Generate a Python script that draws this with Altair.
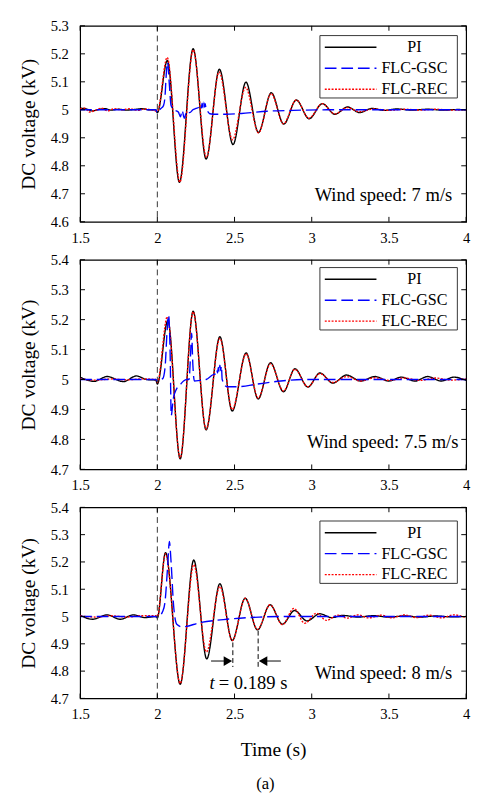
import altair as alt
import pandas as pd

FONT = "Liberation Serif"

# ---------------- data ----------------
SERIES = ["PI", "FLC-GSC", "FLC-REC"]
X_TICKS = [1.5, 2.0, 2.5, 3.0, 3.5, 4.0]
Y_TICKS_1 = [4.6, 4.7, 4.8, 4.9, 5.0, 5.1, 5.2, 5.3]
Y_TICKS_2 = [4.7, 4.8, 4.9, 5.0, 5.1, 5.2, 5.3, 5.4]
Y_TICKS_3 = [4.7, 4.8, 4.9, 5.0, 5.1, 5.2, 5.3, 5.4]

# Panel 1: wind speed 7 m/s
PI_t1 = [1.5, 1.54, 1.58, 1.62, 1.66, 1.70, 1.75, 1.80, 1.85, 1.90, 1.95, 1.99, 2.0, 2.065, 2.143,
         2.232, 2.316, 2.402, 2.490, 2.574, 2.655, 2.738, 2.819, 2.900, 2.983, 3.069, 3.15, 3.232,
         3.31, 3.39, 3.47, 3.55, 3.65, 3.75, 3.85, 3.95, 4.0]
PI_v1 = [5.006, 5.003, 4.996, 5.001, 5.004, 4.999, 5.002, 4.999, 5.001, 5.004, 5.0, 5.0, 4.99, 5.176,
         4.741, 5.218, 4.824, 5.145, 4.876, 5.099, 4.919, 5.061, 4.949, 5.035, 4.968, 5.022, 4.984,
         5.01, 4.99, 5.005, 4.998, 5.003, 4.999, 5.002, 4.999, 5.001, 5.0]
REC_t1 = [1.5, 1.53, 1.56, 1.60, 1.64, 1.68, 1.72, 1.77, 1.82, 1.87, 1.92, 1.96, 2.0, 2.064, 2.146,
          2.232, 2.318, 2.400, 2.487, 2.572, 2.655, 2.737, 2.817, 2.900, 2.982, 3.068, 3.15, 3.23,
          3.31, 3.40, 3.50, 3.60, 3.70, 3.80, 3.90, 4.0]
REC_v1 = [5.004, 5.006, 4.992, 4.998, 5.006, 4.996, 5.004, 5.0, 5.004, 4.998, 5.003, 5.0, 4.995, 5.187,
          4.742, 5.214, 4.83, 5.135, 4.893, 5.08, 4.918, 5.058, 4.95, 5.035, 4.97, 5.022, 4.985,
          5.008, 4.993, 5.003, 4.998, 5.002, 4.999, 5.002, 4.999, 5.0]
GSC_t1 = [1.5, 1.7, 1.9, 1.99, 2.0, 2.02, 2.04, 2.05, 2.057, 2.066, 2.078, 2.089, 2.11, 2.136, 2.15,
          2.16, 2.175, 2.19, 2.21, 2.23, 2.25, 2.27, 2.28, 2.285, 2.29, 2.295, 2.30, 2.305, 2.31,
          2.315, 2.32, 2.34, 2.38, 2.44, 2.57, 2.71, 2.88, 3.1, 4.0]
GSC_v1 = [5.0, 5.0, 5.0, 5.0, 4.99, 5.003, 5.015, 5.05, 5.12, 5.17, 5.09, 5.015, 5.0, 4.992, 4.975,
          4.998, 4.97, 4.995, 4.99, 5.0, 5.005, 5.01, 5.018, 5.006, 5.024, 5.008, 5.027, 5.01, 5.022,
          5.005, 5.0, 4.986, 4.984, 4.984, 4.988, 4.995, 4.998, 5.0, 5.0]

# Panel 2: wind speed 7.5 m/s
PI_t2 = [1.5, 1.59, 1.675, 1.78, 1.865, 1.93, 1.99, 2.0, 2.068, 2.148, 2.232, 2.316, 2.405, 2.485,
         2.575, 2.653, 2.733, 2.817, 2.891, 2.975, 3.053, 3.137, 3.225, 3.317, 3.41, 3.50, 3.58,
         3.67, 3.75, 3.84, 3.92, 4.0]
PI_v2 = [5.008, 4.994, 5.01, 4.993, 5.012, 5.0, 4.998, 4.985, 5.197, 4.735, 5.228, 4.832, 5.143, 4.895,
         5.089, 4.935, 5.056, 4.959, 5.036, 4.975, 5.022, 4.988, 5.015, 4.995, 5.01, 4.995, 5.008,
         4.995, 5.01, 4.995, 5.008, 4.997]
REC_t2 = [1.5, 1.6, 1.7, 1.8, 1.9, 1.99, 2.0, 2.065, 2.148, 2.232, 2.316, 2.405, 2.485, 2.575, 2.653,
          2.733, 2.817, 2.891, 2.975, 3.053, 3.137, 3.225, 3.317, 3.41, 3.5, 3.6, 3.7, 3.8, 3.9, 4.0]
REC_v2 = [5.002, 4.998, 5.002, 4.999, 5.002, 5.0, 4.99, 5.21, 4.738, 5.226, 4.834, 5.138, 4.9, 5.086,
          4.938, 5.053, 4.962, 5.034, 4.976, 5.02, 4.99, 5.01, 4.995, 5.006, 4.997, 5.005, 4.997,
          5.005, 4.998, 5.002]
GSC_t2 = [1.5, 1.8, 1.99, 2.0, 2.035, 2.05, 2.063, 2.073, 2.083, 2.09, 2.103, 2.124, 2.15, 2.17, 2.19,
          2.205, 2.215, 2.222, 2.23, 2.24, 2.275, 2.316, 2.36, 2.38, 2.385, 2.39, 2.395, 2.40, 2.405,
          2.41, 2.415, 2.42, 2.45, 2.52, 2.65, 2.8, 2.95, 4.0]
GSC_v2 = [5.0, 5.0, 5.0, 4.995, 5.003, 5.04, 5.16, 5.215, 5.087, 4.88, 4.935, 4.968, 4.984, 4.995, 5.0,
          5.0, 5.08, 5.155, 5.05, 4.995, 4.997, 5.0, 5.016, 5.02, 5.032, 5.022, 5.04, 5.025, 5.048,
          5.03, 5.045, 5.0, 4.976, 4.976, 4.985, 4.995, 5.0, 5.0]

# Panel 3: wind speed 8 m/s
PI_t3 = [1.5, 1.58, 1.675, 1.76, 1.845, 1.92, 1.99, 2.0, 2.053, 2.148, 2.236, 2.32, 2.405, 2.485,
         2.569, 2.649, 2.73, 2.81, 2.889, 2.969, 3.053, 3.13, 3.2, 3.3, 3.4, 3.5, 3.6, 3.7, 3.8,
         3.9, 4.0]
PI_v3 = [5.005, 4.99, 5.006, 4.99, 5.006, 4.996, 5.0, 4.995, 5.234, 4.752, 5.207, 4.845, 5.12, 4.912,
         5.067, 4.951, 5.043, 4.972, 5.022, 4.984, 5.01, 4.996, 5.004, 4.998, 5.003, 4.998, 5.002,
         4.998, 5.002, 4.999, 5.0]
REC_t3 = [1.5, 1.6, 1.7, 1.8, 1.9, 1.99, 2.0, 2.053, 2.148, 2.236, 2.318, 2.405, 2.485, 2.569, 2.649,
          2.73, 2.81, 2.885, 2.955, 3.03, 3.095, 3.17, 3.23, 3.3, 3.37, 3.45, 3.52, 3.6, 3.68, 3.76,
          3.84, 3.92, 4.0]
REC_v3 = [5.002, 4.998, 5.003, 4.998, 5.003, 5.003, 5.0, 5.23, 4.755, 5.19, 4.87, 5.11, 4.912, 5.067,
          4.953, 5.043, 4.97, 5.03, 4.975, 5.012, 4.986, 5.005, 4.994, 5.006, 4.995, 5.005, 4.995,
          5.006, 4.996, 5.005, 4.995, 5.006, 4.996]
GSC_t3 = [1.5, 1.8, 1.99, 2.0, 2.036, 2.05, 2.067, 2.078, 2.089, 2.105, 2.126, 2.162, 2.28, 2.45,
          2.66, 2.8, 4.0]
GSC_v3 = [5.0, 5.0, 5.0, 4.997, 5.02, 5.055, 5.186, 5.275, 5.2, 5.043, 4.972, 4.962, 4.978, 4.99,
          4.998, 5.0, 5.0]

WIND_LABELS = ["Wind speed: 7 m/s", "Wind speed: 7.5 m/s", "Wind speed: 8 m/s"]
WIND_POS = [(3.91, 4.696), (3.95, 4.791), (3.91, 4.792)]
DISTURBANCE_T = [2.0]

# period annotation (panel 3)
PERIOD_MARKS_T = [2.489, 2.653]
PERIOD_MARKS_TOP = [4.905, 4.948]
PERIOD_MARK_BOTTOM = 4.815
ARROW_Y = 4.837
PERIOD_TEXT = "= 0.189 s"

# ---------------- styling ----------------
W = 396
HEIGHTS = [201, 215, 196]
DOMAINS = [(4.6, 5.3), (4.7, 5.4), (4.7, 5.4)]
LEGEND_TOP = [10, 8, 14]
STYLE = {
    "PI": dict(color="#000000", strokeDash=[1, 0], strokeWidth=1.4),
    "FLC-GSC": dict(color="#0000FF", strokeDash=[12, 5], strokeWidth=1.4),
    "FLC-REC": dict(color="#FF0000", strokeDash=[2, 1.5], strokeWidth=1.4),
}
DRAW_ORDER = ["PI", "FLC-REC", "FLC-GSC"]

one = pd.DataFrame({"k": [0]})


def panel(i, series, yticks, bottom=False):
    h = HEIGHTS[i]
    xs = alt.Scale(domain=[1.5, 4.0], nice=False, zero=False)
    ys = alt.Scale(domain=list(DOMAINS[i]), nice=False, zero=False)
    xaxis = alt.Axis(values=X_TICKS, format="~g", title="Time (s)" if bottom else None,
                     labelPadding=9, titlePadding=19, labelFlush=False, labelOverlap=False)
    yaxis = alt.Axis(values=yticks, format="~g", title="DC voltage (kV)",
                     labelPadding=12, titlePadding=12, labelFlush=False, labelOverlap=False)

    def X(f):
        return alt.X(f, type="quantitative", scale=xs, axis=xaxis)

    def Y(f):
        return alt.Y(f, type="quantitative", scale=ys, axis=yaxis)

    layers = []
    for name in DRAW_ORDER:
        t, v = series[name]
        df = pd.DataFrame({"t": t, "v": v})
        st = STYLE[name]
        layers.append(
            alt.Chart(df).mark_line(interpolate="monotone", clip=True, **st).encode(
                x=X("t"), y=Y("v"))
        )

    # disturbance line
    layers.append(
        alt.Chart(pd.DataFrame({"t": DISTURBANCE_T})).mark_rule(
            color="#333333", strokeDash=[6, 4], strokeWidth=1).encode(x=X("t"))
    )

    # inward ticks on all sides
    xt = pd.DataFrame({"t": X_TICKS})
    yt = pd.DataFrame({"v": yticks})
    layers += [
        alt.Chart(xt).mark_rule(color="black", strokeWidth=1).encode(
            x=X("t"), y=alt.value(h), y2=alt.value(h - 5)),
        alt.Chart(xt).mark_rule(color="black", strokeWidth=1).encode(
            x=X("t"), y=alt.value(0), y2=alt.value(5)),
        alt.Chart(yt).mark_rule(color="black", strokeWidth=1).encode(
            y=Y("v"), x=alt.value(0), x2=alt.value(5)),
        alt.Chart(yt).mark_rule(color="black", strokeWidth=1).encode(
            y=Y("v"), x=alt.value(W), x2=alt.value(W - 5)),
    ]

    # wind speed label
    wx, wy = WIND_POS[i]
    layers.append(
        alt.Chart(pd.DataFrame({"t": [wx], "v": [wy], "s": [WIND_LABELS[i]]})).mark_text(
            align="right", baseline="middle", font=FONT, fontSize=19, color="black").encode(
            x=X("t"), y=Y("v"), text="s:N")
    )

    # legend (box, samples, labels)
    lt = LEGEND_TOP[i]
    layers.append(
        alt.Chart(one).mark_rect(fill="white", stroke="#333333", strokeWidth=1).encode(
            x=alt.value(246), x2=alt.value(387), y=alt.value(lt), y2=alt.value(lt + 64))
    )
    for k, name in enumerate(SERIES):
        yy = lt + 12 + 21.5 * k
        st = STYLE[name]
        layers.append(
            alt.Chart(one).mark_rule(**st).encode(
                x=alt.value(251), x2=alt.value(304), y=alt.value(yy))
        )
        layers.append(
            alt.Chart(one).mark_text(text=name, align="center", baseline="middle", font=FONT,
                                     fontSize=16.5, color="black").encode(
                x=alt.value(343), y=alt.value(yy))
        )

    if bottom:
        # period annotation
        pm = pd.DataFrame({"t": PERIOD_MARKS_T, "top": PERIOD_MARKS_TOP,
                           "bot": [PERIOD_MARK_BOTTOM] * 2})
        layers.append(
            alt.Chart(pm).mark_rule(color="black", strokeDash=[5, 3], strokeWidth=1).encode(
                x=X("t"), y=Y("top"), y2="bot:Q")
        )
        shafts = pd.DataFrame({"t1": [2.348, 2.670], "t2": [2.470, 2.800],
                               "v": [ARROW_Y, ARROW_Y]})
        layers.append(
            alt.Chart(shafts).mark_rule(color="black", strokeWidth=1).encode(
                x=X("t1"), x2="t2:Q", y=Y("v"))
        )
        heads = pd.DataFrame({"t": [2.489 - 0.032, 2.653 + 0.032],
                              "v": [ARROW_Y, ARROW_Y],
                              "shape": ["triangle-right", "triangle-left"]})
        layers.append(
            alt.Chart(heads).mark_point(filled=True, color="black", size=100, opacity=1).encode(
                x=X("t"), y=Y("v"), shape=alt.Shape("shape:N", scale=None))
        )
        layers.append(
            alt.Chart(pd.DataFrame({"t": [2.372], "v": [4.757], "s": ["t"]})).mark_text(
                align="right", baseline="middle", font=FONT, fontSize=19, fontStyle="italic",
                color="black").encode(x=X("t"), y=Y("v"), text="s:N")
        )
        layers.append(
            alt.Chart(pd.DataFrame({"t": [2.398], "v": [4.757], "s": [PERIOD_TEXT]})).mark_text(
                align="left", baseline="middle", font=FONT, fontSize=19,
                color="black").encode(x=X("t"), y=Y("v"), text="s:N")
        )
        # caption
        layers.append(
            alt.Chart(one).mark_text(text="(a)", align="center", baseline="middle", font=FONT,
                                     fontSize=17, color="black").encode(
                x=alt.value(190), y=alt.value(h + 88))
        )

    return alt.layer(*layers).properties(width=W, height=h)


p1 = panel(0, {"PI": (PI_t1, PI_v1), "FLC-REC": (REC_t1, REC_v1), "FLC-GSC": (GSC_t1, GSC_v1)},
           Y_TICKS_1)
p2 = panel(1, {"PI": (PI_t2, PI_v2), "FLC-REC": (REC_t2, REC_v2), "FLC-GSC": (GSC_t2, GSC_v2)},
           Y_TICKS_2)
p3 = panel(2, {"PI": (PI_t3, PI_v3), "FLC-REC": (REC_t3, REC_v3), "FLC-GSC": (GSC_t3, GSC_v3)},
           Y_TICKS_3, bottom=True)

chart = alt.vconcat(p1, p2, p3, spacing=39, bounds="flush").properties(
    padding={"left": 10, "top": 0, "right": 0, "bottom": 0},
    background="white",
).configure_view(
    stroke="black", strokeWidth=1.2
).configure_axis(
    domain=False, ticks=False, grid=False, labelFlush=False,
    labelFont=FONT, labelFontSize=15, labelColor="black",
    titleFont=FONT, titleFontSize=20, titleFontWeight="normal", titleColor="black",
).configure_axisX(
    labelFlush=False
).resolve_scale(x="independent", y="independent")

chart.save("out.html", embed_options={"renderer": "svg", "actions": False})
